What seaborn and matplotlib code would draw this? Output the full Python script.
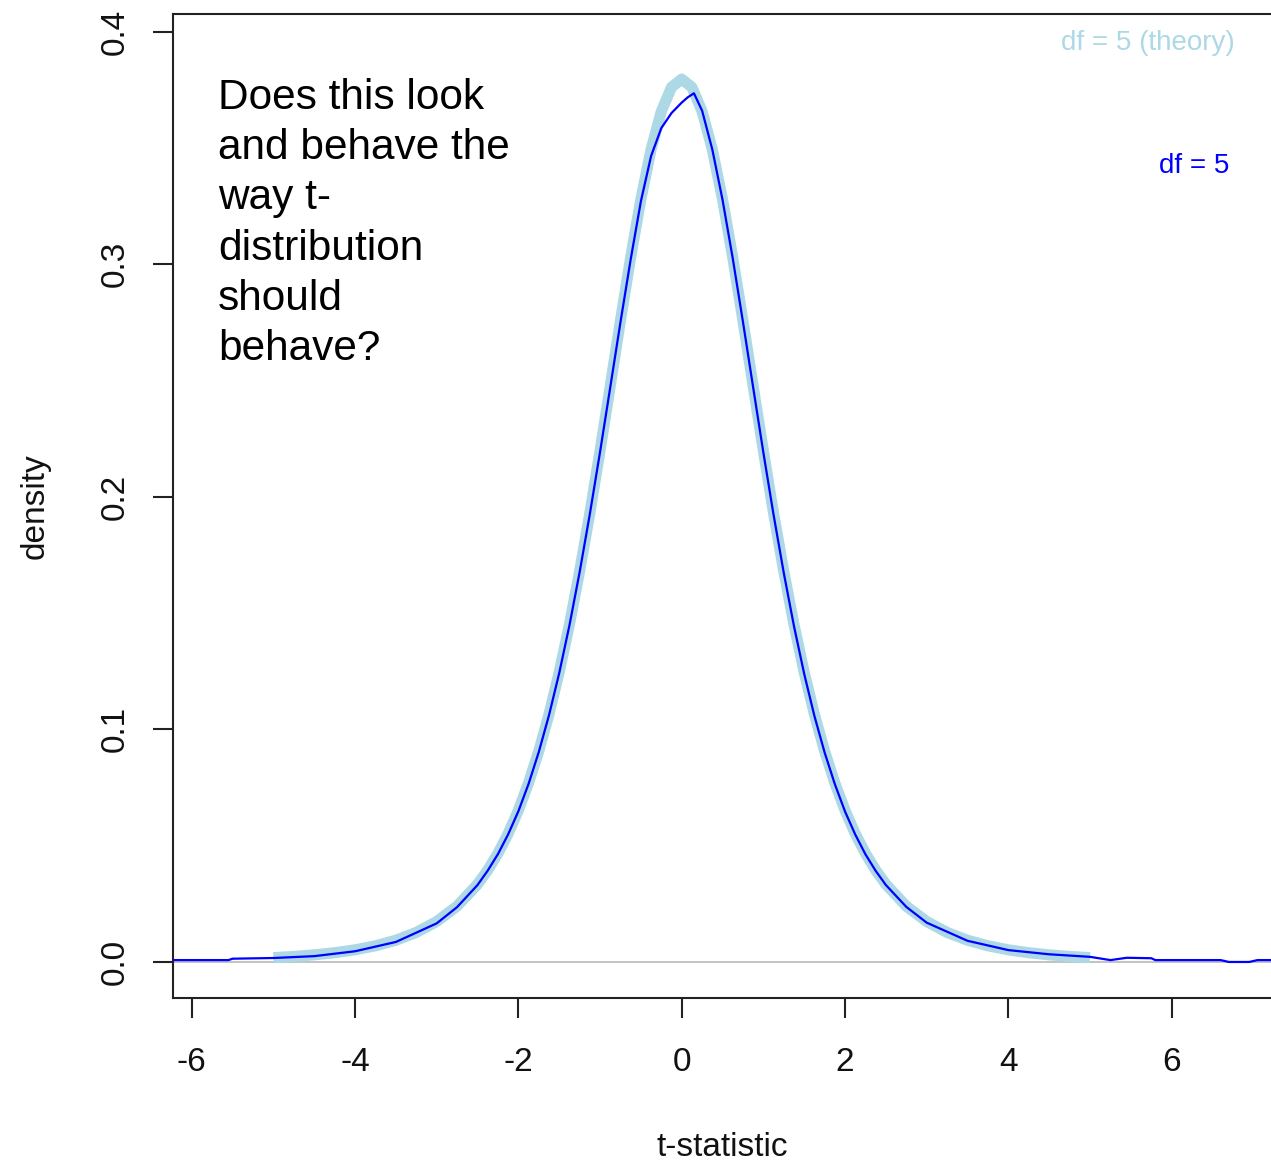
import matplotlib
matplotlib.use("Agg")
import matplotlib.pyplot as plt
import seaborn as sns
import pandas as pd

# ---- data ----
theory_x = [-5.0, -4.75, -4.5, -4.25, -4.0, -3.75, -3.5, -3.25, -3.0, -2.75, -2.5, -2.375,
            -2.25, -2.125, -2.0, -1.875, -1.75, -1.625, -1.5, -1.375, -1.25, -1.125, -1.0,
            -0.875, -0.75, -0.625, -0.5, -0.375, -0.25, -0.125, 0.0,
            0.125, 0.25, 0.375, 0.5, 0.625, 0.75, 0.875, 1.0, 1.125, 1.25, 1.375, 1.5,
            1.625, 1.75, 1.875, 2.0, 2.125, 2.25, 2.375, 2.5, 2.75,
            3.0, 3.25, 3.5, 3.75, 4.0, 4.25, 4.5, 4.75, 5.0]
theory_y = [0.00176, 0.00227, 0.00295, 0.00387, 0.00512, 0.00685, 0.00924, 0.0126, 0.0173,
            0.0239, 0.0333, 0.0394, 0.0466, 0.0551, 0.0651, 0.0769, 0.0906, 0.1064, 0.1245,
            0.1450, 0.1679, 0.1929, 0.2197, 0.2476, 0.2757, 0.3029, 0.3279, 0.3493, 0.3657,
            0.3761, 0.3796,
            0.3761, 0.3657, 0.3493, 0.3279, 0.3029, 0.2757, 0.2476, 0.2197, 0.1929, 0.1679,
            0.1450, 0.1245, 0.1064, 0.0906, 0.0769, 0.0651, 0.0551, 0.0466, 0.0394, 0.0333,
            0.0239, 0.0173, 0.0126, 0.00924, 0.00685, 0.00512, 0.00387, 0.00295, 0.00227,
            0.00176]

sim_x = [-6.23, -5.55, -5.5, -5.0, -4.5, -4.0, -3.5, -3.0, -2.75, -2.5, -2.375, -2.25,
         -2.125, -2.0, -1.875, -1.75, -1.625, -1.5, -1.375, -1.25, -1.125, -1.0, -0.875,
         -0.75, -0.625, -0.5, -0.375, -0.25, -0.125, 0.0, 0.075, 0.15, 0.25, 0.375, 0.5,
         0.625, 0.75, 0.875, 1.0, 1.125, 1.25, 1.375, 1.5, 1.625, 1.75, 1.875, 2.0, 2.125,
         2.25, 2.375, 2.5, 2.75, 3.0, 3.5, 4.0, 4.5, 5.0, 5.25, 5.45, 5.75, 5.8, 6.6, 6.7,
         6.95, 7.05, 7.25]
sim_y = [0.0007, 0.0007, 0.0013, 0.0016, 0.0024, 0.0045, 0.0085, 0.0165, 0.0235, 0.0330,
         0.0392, 0.0463, 0.0548, 0.0647, 0.0765, 0.0902, 0.1060, 0.1241, 0.1446, 0.1675,
         0.1925, 0.2192, 0.2470, 0.2750, 0.3020, 0.3270, 0.3465, 0.3585, 0.3650, 0.3695,
         0.3718, 0.3735, 0.3660, 0.3493, 0.3277, 0.3025, 0.2752, 0.2470, 0.2190, 0.1922,
         0.1672, 0.1443, 0.1238, 0.1057, 0.0900, 0.0764, 0.0646, 0.0547, 0.0462, 0.0391,
         0.0330, 0.0236, 0.0168, 0.0090, 0.0050, 0.0032, 0.0021, 0.0007, 0.0017, 0.0015,
         0.0007, 0.0007, -0.0001, -0.0001, 0.0007, 0.0007]

x_ticks = [-6, -4, -2, 0, 2, 4, 6]
y_ticks = [0.0, 0.1, 0.2, 0.3, 0.4]
y_ticklabels = ["0.0", "0.1", "0.2", "0.3", "0.4"]

theory_label = "df = 5 (theory)"
sim_label = "df = 5"
question = "Does this look\nand behave the\nway t-\ndistribution\nshould\nbehave?"

# ---- plotting ----
sns.set_style("white")
plt.rcParams['font.family'] = ['Liberation Sans', 'DejaVu Sans']

fig = plt.figure(figsize=(12.71, 11.62), dpi=100)
ax = fig.add_axes([173/1271, 1-998/1162, 1-173/1271, (998-14)/1162])

ax.axhline(0, color="#BEBEBE", lw=1.3, zorder=1)

df_theory = pd.DataFrame({"x": theory_x, "y": theory_y})
df_sim = pd.DataFrame({"x": sim_x, "y": sim_y})
sns.lineplot(data=df_theory, x="x", y="y", ax=ax, color="#ADD8E6", lw=8, sort=False,
             solid_capstyle="butt", zorder=2)
sns.lineplot(data=df_sim, x="x", y="y", ax=ax, color="#0000FF", lw=1.6, sort=False, zorder=3)

ax.set_xlim(-6.229, 7.216)
ax.set_ylim(-0.0156, 0.4076)

ax.set_xticks(x_ticks)
ax.set_xticklabels([str(v) for v in x_ticks])
ax.set_yticks(y_ticks)
ax.set_yticklabels(y_ticklabels, rotation=90, va="center")

ax.tick_params(axis="both", direction="out", length=14.5, width=1.5, color="#222222",
               labelsize=24, labelcolor="#111111", bottom=True, left=True,
               top=False, right=False)
ax.tick_params(axis="x", pad=20.5)
ax.tick_params(axis="y", pad=16)

for side in ["left", "bottom", "top"]:
    ax.spines[side].set_visible(True)
    ax.spines[side].set_color("#222222")
    ax.spines[side].set_linewidth(1.5)
ax.spines["right"].set_visible(False)

ax.set_xlabel("t-statistic", fontsize=24, color="#111111", labelpad=39)
ax.set_ylabel("density", fontsize=24, color="#111111", labelpad=35)

ax.text(6.77, 0.3952, theory_label, color="#ADD8E6", fontsize=20, ha="right", va="center")
ax.text(6.71, 0.3422, sim_label, color="#0000FF", fontsize=20, ha="right", va="center")

fig.text(218/1271, 1-78/1162, question, fontsize=30.5, color="black", ha="left", va="top",
         linespacing=1.33)

fig.savefig("out.png", dpi=100)
